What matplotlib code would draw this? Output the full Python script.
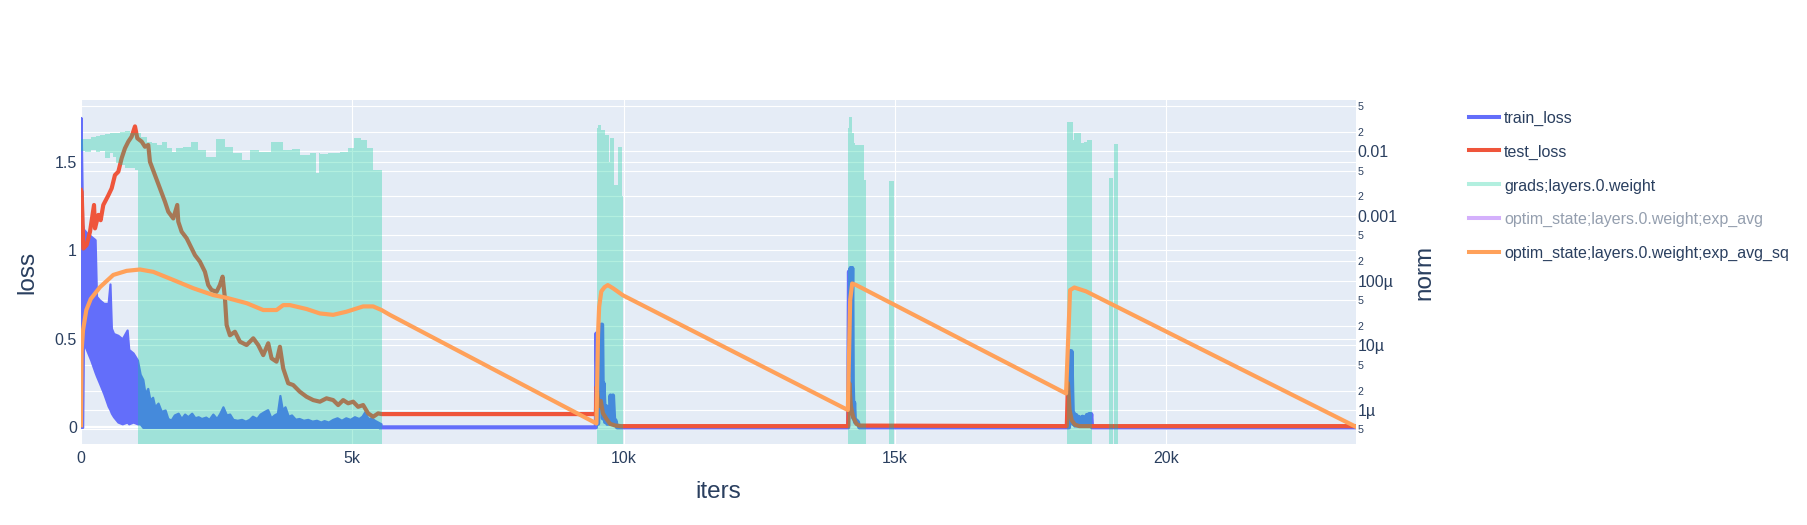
import numpy as np
import matplotlib

matplotlib.use("Agg")
import matplotlib.pyplot as plt
from matplotlib import transforms
from matplotlib.lines import Line2D
from matplotlib.ticker import FixedLocator, FixedFormatter

plt.rcParams["font.family"] = ["Liberation Sans", "DejaVu Sans"]

BG = "#E5ECF6"
TEXT = "#2a3f5f"
BLUE = "#636efa"
RED = "#ef553b"
GREEN = "#00cc96"
PURPLE = "#ab63fa"
ORANGE = "#ffa15a"

# train_loss: dense oscillating part drawn as a band (low/high envelope)
TRAIN_BAND_ITERS = [0, 30, 45, 100, 180, 260, 285, 340, 420, 500, 534, 560, 600, 680, 760, 850,
                    880, 960, 1040, 1090, 1140, 1180, 1230, 1270, 1320, 1360, 1420, 1480, 1550,
                    1600, 1660, 1720, 1790, 1850, 1910, 1970, 2040, 2100, 2160, 2220, 2300, 2360,
                    2430, 2500, 2560, 2616, 2680, 2740, 2800, 2880, 2960, 3030, 3100, 3160, 3240,
                    3300, 3380, 3440, 3500, 3560, 3620, 3666, 3710, 3760, 3820, 3880, 3950, 4020,
                    4100, 4180, 4260, 4340, 4420, 4480, 4560, 4640, 4720, 4800, 4880, 4960, 5040,
                    5120, 5180, 5230, 5290, 5350, 5410, 5470, 5530]
TRAIN_BAND_HIGH = [1.75, 1.15, 1.12, 1.10, 1.08, 1.06, 0.74, 0.72, 0.70, 0.70, 0.81, 0.56, 0.53,
                   0.52, 0.50, 0.55, 0.44, 0.42, 0.38, 0.30, 0.27, 0.19, 0.22, 0.155, 0.17, 0.116,
                   0.137, 0.09, 0.098, 0.05, 0.041, 0.07, 0.08, 0.05, 0.075, 0.06, 0.08, 0.054,
                   0.06, 0.05, 0.058, 0.045, 0.075, 0.05, 0.08, 0.116, 0.07, 0.075, 0.045, 0.04,
                   0.045, 0.035, 0.045, 0.063, 0.05, 0.075, 0.09, 0.10, 0.054, 0.07, 0.08, 0.18,
                   0.10, 0.116, 0.063, 0.07, 0.046, 0.05, 0.04, 0.045, 0.035, 0.04, 0.03, 0.038,
                   0.03, 0.045, 0.054, 0.04, 0.054, 0.045, 0.06, 0.05, 0.063, 0.088, 0.05, 0.054,
                   0.04, 0.03, 0.02]
TRAIN_BAND_LOW = [0.0, 0.0, 0.48, 0.44, 0.38, 0.31, 0.29, 0.25, 0.19, 0.12, 0.10, 0.08, 0.06,
                  0.03, 0.02, 0.03, 0.02, 0.03, 0.02, 0.02] + [0.0] * 69

# train_loss: sparse part after 5.5k
TRAIN_ITERS = [5530, 9490, 9500, 9530, 9560, 9590, 9605, 9620, 9630, 9660, 9680, 9700, 9720,
               9745, 9760, 9790, 9805, 9830, 9850, 9880, 14140, 14155, 14170, 14185, 14200,
               14215, 14225, 14240, 14250, 14265, 14290, 14320, 14345, 18210, 18225, 18240,
               18255, 18270, 18285, 18300, 18320, 18340, 18360, 18380, 18400, 18420, 18440,
               18460, 18480, 18500, 18520, 18540, 18560, 18580, 18600, 18620, 18635, 23500]
TRAIN_LOSS = [0.0, 0.0, 0.53, 0.02, 0.30, 0.58, 0.58, 0.05, 0.25, 0.03, 0.12, 0.02, 0.115,
              0.02, 0.18, 0.02, 0.18, 0.02, 0.04, 0.0, 0.0, 0.88, 0.30, 0.90, 0.50, 0.90, 0.25,
              0.05, 0.14, 0.03, 0.04, 0.03, 0.0, 0.0, 0.43, 0.10, 0.43, 0.20, 0.02, 0.08, 0.01,
              0.07, 0.01, 0.06, 0.01, 0.055, 0.01, 0.06, 0.01, 0.055, 0.01, 0.07, 0.01, 0.075,
              0.01, 0.075, 0.0, 0.0]

TEST_ITERS = [0, 12, 43, 104, 166, 240, 258, 319, 362, 411, 503, 565, 626, 688, 749, 810, 872,
              933, 995, 1038, 1118, 1179, 1240, 1271, 1363, 1455, 1547, 1609, 1701, 1774, 1793,
              1855, 1947, 2039, 2100, 2192, 2284, 2345, 2406, 2499, 2560, 2610, 2653, 2684,
              2745, 2837, 2929, 3052, 3175, 3266, 3359, 3451, 3512, 3604, 3666, 3727, 3819,
              3911, 4034, 4157, 4280, 4403, 4525, 4648, 4740, 4832, 4924, 5016, 5108, 5200,
              5292, 5385, 5477, 5539, 9490, 9505, 9540, 9580, 9620, 9680, 9750, 9850, 9950,
              14140, 14160, 14190, 14230, 14290, 14350, 18170, 18190, 18220, 18260, 18320,
              18400, 23500]
TEST_LOSS = [1.34, 1.33, 1.01, 1.03, 1.105, 1.256, 1.124, 1.20, 1.17, 1.256, 1.31, 1.35, 1.425,
             1.444, 1.52, 1.576, 1.614, 1.642, 1.70, 1.633, 1.614, 1.585, 1.595, 1.50, 1.425,
             1.35, 1.275, 1.218, 1.18, 1.256, 1.162, 1.105, 1.068, 1.011, 0.973, 0.936, 0.879,
             0.804, 0.776, 0.766, 0.804, 0.851, 0.729, 0.578, 0.52, 0.54, 0.484, 0.465, 0.503,
             0.465, 0.408, 0.475, 0.39, 0.371, 0.455, 0.333, 0.249, 0.239, 0.201, 0.173, 0.154,
             0.145, 0.164, 0.154, 0.126, 0.154, 0.136, 0.145, 0.116, 0.126, 0.079, 0.06, 0.079,
             0.075, 0.075, 0.23, 0.12, 0.15, 0.08, 0.05, 0.02, 0.01, 0.007, 0.007, 0.25, 0.12,
             0.06, 0.02, 0.01, 0.007, 0.25, 0.10, 0.04, 0.015, 0.007, 0.007]

# grads;layers.0.weight (right axis) - dense trace drawn as band, NaN = no data
nan = float("nan")
GRAD_ITERS = [0, 130, 240, 313, 400, 497, 560, 620, 680, 760, 866, 958, 1045,
              1050, 1173, 1265, 1357, 1450, 1541, 1634, 1726, 1787, 1971, 2094, 2216, 2400,
              2585, 2708, 2892, 3045, 3168, 3383, 3629, 3813, 3966, 4120, 4304, 4370, 4385,
              4427, 4673, 4857, 4979, 5102, 5226, 5318, 5440, 5545, 5546,
              9505, 9560, 9620, 9680, 9725, 9732, 9750, 9757, 9815, 9820, 9895, 9900, 9975,
              9980, 9997, 9998,
              14134, 14165, 14196, 14226, 14257, 14288, 14429, 14435, 14460, 14461,
              14889, 14988, 14989,
              18168, 18193, 18266, 18291, 18328, 18414, 18463, 18524, 18555, 18629, 18630,
              18954, 19028, 19029, 19046, 19120]
GRAD_HIGH = [0.0152, 0.0155, 0.0166, 0.0172, 0.0177, 0.0184, 0.0188, 0.0188, 0.0190, 0.0195,
             0.0205, 0.0188, 0.0190,
             0.0188, 0.0166, 0.0139, 0.0132, 0.0124, 0.0139, 0.0110, 0.0098, 0.0110, 0.0117,
             0.0139, 0.0104, 0.0082, 0.0151, 0.0117, 0.0092, 0.0073, 0.0104, 0.0098, 0.0139,
             0.0104, 0.0106, 0.0087, 0.0094, 0.0045, 0.0092, 0.0090, 0.0092, 0.0098, 0.0110,
             0.0157, 0.0148, 0.0110, 0.0051, 0.0051, nan,
             0.0224, 0.0252, 0.0211, 0.0177, 0.0177, 0.0068, 0.0068, 0.0161, 0.0161, 0.0030,
             0.0030, 0.0117, 0.0117, 0.0020, 0.0020, nan,
             0.0224, 0.0332, 0.0332, 0.0188, 0.0132, 0.0124, 0.0124, 0.0036, 0.0036, nan,
             0.0035, 0.0035, nan,
             0.0166, 0.0284, 0.0284, 0.0148, 0.0188, 0.0188, 0.0135, 0.0139, 0.0148, 0.0148, nan,
             0.0038, 0.0038, nan, 0.0128, 0.0128]
GRAD_LOW = [0.0100, 0.0098, 0.0103, 0.0095, 0.0100, 0.0077, 0.0092, 0.0080, 0.0065, 0.0060,
            0.0054, 0.0054, 0.0051] + [1e-9] * 36 + [1e-9] * 16 + [1e-9] * 10 + [1e-9] * 3 \
           + [1e-9] * 11 + [1e-9] * 5

# optim_state;layers.0.weight;exp_avg_sq (right axis)
SQ_ITERS = [0, 10, 37, 98, 180, 350, 595, 841, 1087, 1333, 1701, 2069, 2437, 2684, 3052, 3359,
            3604, 3727, 3850, 4157, 4403, 4648, 4894, 5200, 5385, 5539, 5692,
            9500, 9515, 9530, 9550, 9590, 9650, 9710, 9805, 9990,
            14134, 14177, 14214, 14288,
            18156, 18230, 18309, 18525, 23500]
SQ_VALUES = [5.8e-7, 8.0e-6, 1.7e-5, 3.5e-5, 5.2e-5, 7.9e-5, 1.22e-4, 1.41e-4, 1.48e-4, 1.36e-4,
             1.02e-4, 7.6e-5, 5.96e-5, 5.4e-5, 4.47e-5, 3.5e-5, 3.5e-5, 4.17e-5, 4.17e-5,
             3.63e-5, 3.1e-5, 2.95e-5, 3.3e-5, 3.98e-5, 3.98e-5, 3.5e-5, 2.95e-5,
             6.2e-7, 3.0e-6, 1.5e-5, 3.9e-5, 6.8e-5, 7.9e-5, 8.5e-5, 7.6e-5, 5.9e-5,
             1.0e-6, 5.0e-5, 9.0e-5, 8.5e-5,
             1.8e-6, 7.1e-5, 7.8e-5, 6.8e-5, 5.5e-7]

X_TICKS = [0, 5000, 10000, 15000, 20000]
X_TICK_LABELS = ["0", "5k", "10k", "15k", "20k"]
LOSS_TICKS = [0, 0.5, 1, 1.5]
LOSS_TICK_LABELS = ["0", "0.5", "1", "1.5"]
NORM_MAJOR = [1e-6, 1e-5, 1e-4, 1e-3, 1e-2]
NORM_MAJOR_LABELS = ["1µ", "10µ", "100µ", "0.001", "0.01"]
NORM_MINOR = [5e-7, 2e-6, 5e-6, 2e-5, 5e-5, 2e-4, 5e-4, 2e-3, 5e-3, 2e-2, 5e-2]
NORM_MINOR_LABELS = ["5", "2", "5", "2", "5", "2", "5", "2", "5", "2", "5"]

LEGEND_LABELS = ["train_loss", "test_loss", "grads;layers.0.weight",
                 "optim_state;layers.0.weight;exp_avg", "optim_state;layers.0.weight;exp_avg_sq"]

W, H = 1808, 525
fig = plt.figure(figsize=(W / 100, H / 100), dpi=100)
ax = fig.add_axes([81 / W, 1 - 444 / H, (1356 - 81) / W, (444 - 100) / H])
ax.set_facecolor(BG)
ax2 = ax.twinx()
ax2.patch.set_visible(False)

for a in (ax, ax2):
    for s in a.spines.values():
        s.set_visible(False)

ax.set_xlim(0, 23500)
ax.set_ylim(-0.094, 1.849)
ax2.set_yscale("log")
ax2.set_ylim(10 ** -6.525, 10 ** -1.212)

# grid (all under the traces)
ax.set_axisbelow(True)
ax.set_xticks(X_TICKS, X_TICK_LABELS)
ax.set_yticks(LOSS_TICKS, LOSS_TICK_LABELS)
ax.grid(color="white", lw=0.8)
ax.axhline(0, color="white", lw=1.6, zorder=0.6)
norm_tf = transforms.blended_transform_factory(ax.transAxes, ax2.transData)
for v in NORM_MAJOR + NORM_MINOR:
    ax.plot([0, 1], [v, v], transform=norm_tf, color="white", lw=0.8, zorder=0.6)

# loss traces
ax.fill_between(TRAIN_BAND_ITERS, TRAIN_BAND_LOW, TRAIN_BAND_HIGH, facecolor=BLUE,
                edgecolor=BLUE, lw=1.6, zorder=2)
ax.plot(TRAIN_ITERS, TRAIN_LOSS, color=BLUE, lw=3.0, zorder=2)
ax.plot(TEST_ITERS, TEST_LOSS, color=RED, lw=3.0, zorder=3)

# norm traces
ax2.fill_between(GRAD_ITERS, GRAD_LOW, GRAD_HIGH, step="mid", color=GREEN, alpha=0.3, lw=0,
                 zorder=2)
ax2.plot(SQ_ITERS, SQ_VALUES, color=ORANGE, lw=3.0, zorder=3)

ax.tick_params(axis="both", length=0, labelsize=11.5, labelcolor=TEXT)
ax.tick_params(axis="x", pad=5)
ax.tick_params(axis="y", pad=3)
ax2.yaxis.set_major_locator(FixedLocator(NORM_MAJOR))
ax2.yaxis.set_major_formatter(FixedFormatter(NORM_MAJOR_LABELS))
ax2.yaxis.set_minor_locator(FixedLocator(NORM_MINOR))
ax2.yaxis.set_minor_formatter(FixedFormatter(NORM_MINOR_LABELS))
ax2.tick_params(axis="y", which="major", length=0, pad=1, labelsize=11.5, labelcolor=TEXT)
ax2.tick_params(axis="y", which="minor", length=0, pad=1, labelsize=7.7, labelcolor=TEXT)

# axis titles
fig.text(718 / W, 1 - 498 / H, "iters", ha="center", va="baseline", fontsize=17.5, color=TEXT)
fig.text(33 / W, 1 - 272 / H, "loss", rotation=90, rotation_mode="anchor", ha="center",
         va="baseline", fontsize=17.5, color=TEXT)
fig.text(1430 / W, 1 - 272 / H, "norm", rotation=90, rotation_mode="anchor", ha="center",
         va="baseline", fontsize=17.5, color=TEXT)

# legend
legend_styles = [(BLUE, 1.0), (RED, 1.0), (GREEN, 0.3), (PURPLE, 0.5), (ORANGE, 1.0)]
for i, (label, (col, alpha)) in enumerate(zip(LEGEND_LABELS, legend_styles)):
    y = 116.7 + i * 33.7
    fig.add_artist(Line2D([1469 / W, 1499 / W], [1 - y / H, 1 - y / H], color=col, alpha=alpha,
                          lw=2.9, transform=fig.transFigure))
    fig.text(1504 / W, 1 - (y + 6.5) / H, label, ha="left", va="baseline", fontsize=11.5,
             color=TEXT, alpha=0.5 if label.endswith("exp_avg") else 1.0)

fig.savefig("out.png", dpi=100, facecolor="white")
